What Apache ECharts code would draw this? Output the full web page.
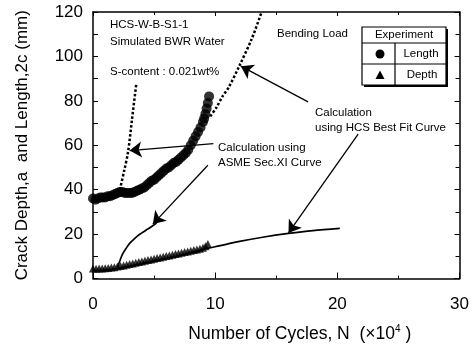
<!DOCTYPE html>
<html>
<head>
<meta charset="utf-8">
<script src="https://cdn.jsdelivr.net/npm/echarts@6/dist/echarts.min.js"></script>
<style>
html, body { margin: 0; padding: 0; background: #fff; }
#chart { width: 472px; height: 348px; }
</style>
</head>
<body>
<div id="chart"></div>
<script>
// 实验值: 裂纹长度 2c
const lengthN = [0.0, 0.2, 0.4, 0.6, 0.8, 1.0, 1.2, 1.4, 1.6, 1.8, 2.0, 2.2, 2.4, 2.6, 2.8, 3.0, 3.2, 3.4, 3.6, 3.8,
  4.0, 4.2, 4.4, 4.6, 4.8, 5.0, 5.2, 5.4, 5.6, 5.8, 6.0, 6.2, 6.4, 6.6, 6.8, 7.0, 7.2, 7.4, 7.6, 7.8,
  8.0, 8.2, 8.4, 8.6, 8.8, 9.0, 9.1, 9.2, 9.3, 9.4, 9.5];
const lengthC = [36, 35.5, 36, 36.5, 36.5, 36.5, 37, 37, 37.5, 38, 38.5, 39, 39, 38.5, 38.5, 38.5, 38.5, 39, 39.5, 40,
  40.5, 41, 42, 43, 44, 44.5, 45.5, 46.5, 47.5, 48.5, 49.5, 50, 51, 52, 52.5, 53.5, 54.5, 55.5, 56.5, 58,
  60, 62, 64, 66, 68, 70.5, 72, 74, 76.5, 79, 82];
// 实验值: 裂纹深度 a
const depthN = [0, 0.25, 0.5, 0.75, 1, 1.25, 1.5, 1.75, 2, 2.25, 2.5, 2.75, 3, 3.25, 3.5, 3.75, 4, 4.25, 4.5, 4.75,
  5, 5.25, 5.5, 5.75, 6, 6.25, 6.5, 6.75, 7, 7.25, 7.5, 7.75, 8, 8.25, 8.5, 8.75, 9, 9.2, 9.4];
const depthA = [4.5, 4.4, 4.5, 4.5, 4.6, 4.7, 4.9, 5.1, 5.4, 5.6, 5.9, 6.2, 6.5, 6.8, 7.1, 7.4, 7.7, 8.0, 8.3, 8.6,
  8.9, 9.2, 9.5, 9.8, 10.1, 10.4, 10.7, 11.0, 11.3, 11.6, 11.9, 12.2, 12.5, 12.8, 13.1, 13.4, 13.8, 14.5, 15.5];
// 计算曲线
const hcsDepthN = [0, 1, 2, 3, 4, 5, 6, 7, 8, 9, 10, 12, 14, 16, 18, 20.2];
const hcsDepthA = [3.6, 3.8, 4.5, 5.5, 6.7, 7.9, 9.0, 10.2, 11.6, 13.0, 14.3, 16.7, 18.7, 20.3, 21.6, 22.6];
const asmeDepthN = [2.0, 2.2, 2.4, 2.7, 3.0, 3.4, 3.8, 4.3, 4.8, 5.2];
const asmeDepthA = [5, 8, 10.8, 13.5, 15.8, 18, 19.8, 21.6, 23.4, 25];
const asmeLengthN = [2.2, 2.55, 2.87, 3.2, 3.55];
const asmeLengthC = [40, 48.5, 57, 72, 88];
const hcsLengthN = [9.6, 10.1, 10.6, 11.1, 12, 13, 13.8];
const hcsLengthC = [73, 77, 82, 86, 96, 108, 120];
// 标注箭头 (起点 -> 终点, 数据坐标)
const arrows = [
  [[9.85, 60.7], [3.0, 57.6]],
  [[9.4, 51], [4.9, 24.5]],
  [[17.6, 79.5], [12.1, 95.6]],
  [[21.7, 65], [16.0, 20.5]],
];

const FONT = '"Liberation Sans", Arial, sans-serif';
const zip = (xs, ys) => xs.map((x, i) => [x, ys[i]]);

const chartDom = echarts.init(document.getElementById("chart"));

const axisBase = {
  type: "value",
  axisLine: { show: true, onZero: false, lineStyle: { color: "#000", width: 1.5 } },
  splitLine: { show: false },
};

function note(text, x, y) {
  return {
    type: "text",
    x: x,
    y: y,
    style: { text: text, font: "11.5px " + FONT, fill: "#000", verticalAlign: "middle" },
  };
}

const option = {
  animation: false,
  grid: { left: 93, right: 10, top: 12, bottom: 60 },
  xAxis: [
    {
      ...axisBase,
      position: "bottom",
      min: 0,
      max: 30,
      interval: 10,
      axisTick: { inside: true, length: 6, lineStyle: { color: "#000" } },
      minorTick: { show: true, splitNumber: 2, length: 3, lineStyle: { color: "#000" } },
      axisLabel: { color: "#000", fontSize: 17, fontFamily: FONT, margin: 17 },
      name: "Number of Cycles, N  (×10{sup|4} )",
      nameLocation: "middle",
      nameGap: 46,
      nameTextStyle: {
        color: "#000",
        fontSize: 17.5,
        fontFamily: FONT,
        padding: [0, 0, 0, 47],
        rich: { sup: { fontSize: 10, fontFamily: FONT, color: "#000", padding: [0, 0, 9, 0] } },
      },
    },
    {
      ...axisBase,
      position: "top",
      min: 0,
      max: 30,
      interval: 10,
      axisTick: { inside: true, length: 4, lineStyle: { color: "#000" } },
      minorTick: { show: true, splitNumber: 2, length: 3, lineStyle: { color: "#000" } },
      axisLabel: { show: false },
    },
  ],
  yAxis: [
    {
      ...axisBase,
      position: "left",
      min: 0,
      max: 120,
      interval: 20,
      axisTick: { inside: true, length: 5, lineStyle: { color: "#000" } },
      minorTick: { show: true, splitNumber: 2, length: 5, lineStyle: { color: "#000" } },
      axisLabel: { color: "#000", fontSize: 17, fontFamily: FONT, margin: 10, padding: [4, 0, 0, 0] },
      name: "Crack Depth,a  and Length,2c (mm)",
      nameLocation: "middle",
      nameRotate: 90,
      nameGap: 62,
      nameTextStyle: { color: "#000", fontSize: 17, fontFamily: FONT },
    },
    {
      ...axisBase,
      position: "right",
      min: 0,
      max: 120,
      interval: 20,
      axisTick: { inside: true, length: 5, lineStyle: { color: "#000" } },
      minorTick: { show: true, splitNumber: 2, length: 4, lineStyle: { color: "#000" } },
      axisLabel: { show: false },
    },
  ],
  series: [
    {
      name: "HCS depth",
      type: "line",
      smooth: 0.3,
      symbol: "none",
      data: zip(hcsDepthN, hcsDepthA),
      lineStyle: { color: "#000", width: 1.7 },
    },
    {
      name: "ASME depth",
      type: "line",
      smooth: 0.4,
      symbol: "none",
      data: zip(asmeDepthN, asmeDepthA),
      lineStyle: { color: "#000", width: 1.7 },
    },
    {
      name: "ASME length",
      type: "line",
      smooth: 0.3,
      symbol: "none",
      data: zip(asmeLengthN, asmeLengthC),
      lineStyle: { color: "#000", width: 2.5, type: [2.5, 2] },
    },
    {
      name: "HCS length",
      type: "line",
      smooth: 0.3,
      symbol: "none",
      data: zip(hcsLengthN, hcsLengthC),
      lineStyle: { color: "#000", width: 2.5, type: [2.5, 2] },
    },
    {
      name: "Length",
      type: "scatter",
      symbol: "circle",
      symbolSize: 10,
      data: zip(lengthN, lengthC),
      itemStyle: { color: "#000" },
    },
    {
      name: "Depth",
      type: "scatter",
      symbol: "triangle",
      symbolSize: 8,
      data: zip(depthN, depthA),
      itemStyle: { color: "#000" },
    },
    {
      name: "arrows",
      type: "line",
      data: [],
      markLine: {
        silent: true,
        symbol: ["none", "arrow"],
        symbolSize: 12,
        label: { show: false },
        lineStyle: { color: "#000", width: 1.3, type: "solid" },
        data: arrows.map(([a, b]) => [{ coord: a }, { coord: b }]),
      },
    },
  ],
  graphic: [
    note("HCS-W-B-S1-1", 110, 25),
    note("Simulated BWR Water", 110, 42),
    note("S-content : 0.021wt%", 110, 72),
    note("Bending Load", 277, 34),
    note("Calculation using", 218, 148),
    note("ASME Sec.XI Curve", 218, 163),
    note("Calculation", 315, 113),
    note("using HCS Best Fit Curve", 315, 128),
    // 图例表格
    { type: "rect", shape: { x: 364, y: 29, width: 84, height: 58 }, style: { fill: "#000" } },
    { type: "rect", shape: { x: 362, y: 27, width: 84, height: 58 }, style: { fill: "#fff", stroke: "#000", lineWidth: 1.2 } },
    { type: "line", shape: { x1: 362, y1: 43, x2: 446, y2: 43 }, style: { stroke: "#000", lineWidth: 1.2 } },
    { type: "line", shape: { x1: 362, y1: 64, x2: 446, y2: 64 }, style: { stroke: "#000", lineWidth: 1.2 } },
    { type: "line", shape: { x1: 395, y1: 43, x2: 395, y2: 85 }, style: { stroke: "#000", lineWidth: 1.2 } },
    { type: "text", x: 404, y: 35, style: { text: "Experiment", font: "11.5px " + FONT, fill: "#000", align: "center", verticalAlign: "middle" } },
    { type: "circle", shape: { cx: 380, cy: 54, r: 4.5 }, style: { fill: "#000" } },
    { type: "polygon", shape: { points: [[375.5, 79], [384.5, 79], [380, 70.5]] }, style: { fill: "#000" } },
    { type: "text", x: 421, y: 54, style: { text: "Length", font: "11.5px " + FONT, fill: "#000", align: "center", verticalAlign: "middle" } },
    { type: "text", x: 422, y: 75, style: { text: "Depth", font: "11.5px " + FONT, fill: "#000", align: "center", verticalAlign: "middle" } },
  ],
};

chartDom.setOption(option);
</script>
</body>
</html>
